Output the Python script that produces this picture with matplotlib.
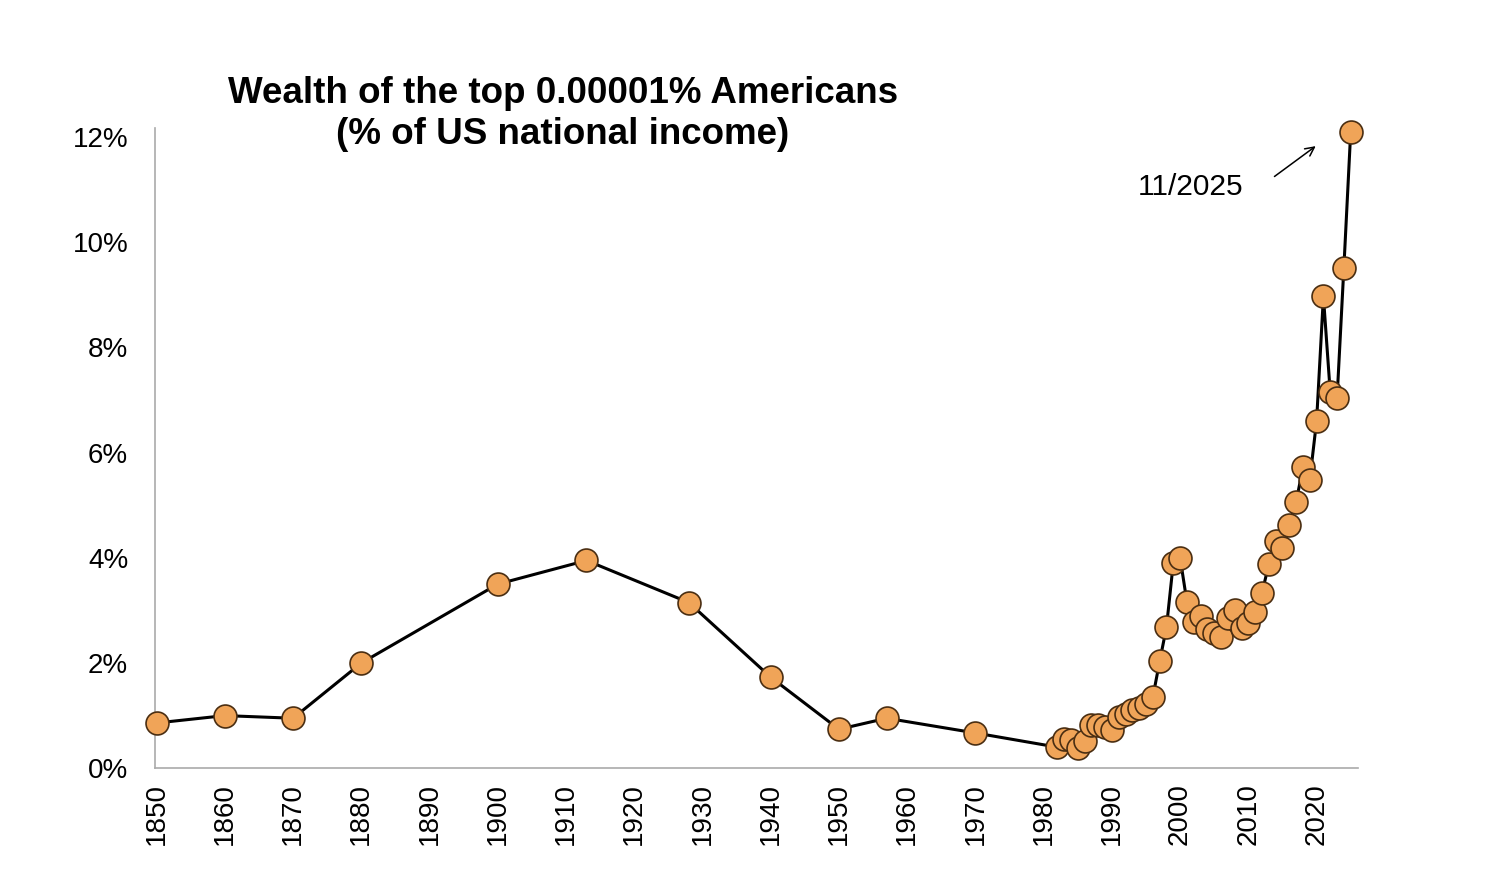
import matplotlib
matplotlib.use("Agg")
import matplotlib.pyplot as plt

years = [1850, 1860, 1870, 1880, 1900, 1913, 1928, 1940, 1950, 1957, 1970,
         1982, 1983, 1984, 1985, 1986, 1987, 1988, 1989, 1990, 1991, 1992,
         1993, 1994, 1995, 1996, 1997, 1998, 1999, 2000, 2001, 2002, 2003,
         2004, 2005, 2006, 2007, 2008, 2009, 2010, 2011, 2012, 2013, 2014,
         2015, 2016, 2017, 2018, 2019, 2020, 2021, 2022, 2023, 2024, 2025]
share = [0.86, 1.00, 0.95, 2.00, 3.50, 3.95, 3.15, 1.73, 0.74, 0.95, 0.67,
         0.40, 0.55, 0.53, 0.38, 0.51, 0.82, 0.82, 0.78, 0.72, 0.97, 1.04,
         1.10, 1.14, 1.23, 1.35, 2.03, 2.68, 3.90, 4.00, 3.16, 2.78, 2.90,
         2.65, 2.57, 2.50, 2.85, 3.00, 2.66, 2.77, 2.97, 3.33, 3.88, 4.32,
         4.18, 4.62, 5.06, 5.72, 5.48, 6.60, 8.97, 7.15, 7.03, 9.52, 12.10]
xticks = list(range(1850, 2021, 10))
yticks = [0, 2, 4, 6, 8, 10, 12]

plt.rcParams['font.family'] = ['Liberation Sans', 'DejaVu Sans']
fig = plt.figure(figsize=(14.86, 8.84), dpi=100)
ax = fig.add_axes([0.104, 0.131, 0.81, 0.724])

ax.plot(years, share, color='black', lw=2.2, zorder=2, clip_on=False)
ax.plot(years, share, 'o', ms=16.5, mfc='#F0A458', mec='#4a2e12', mew=1.2,
        zorder=3, clip_on=False)

ax.set_xlim(1849.7, 2026.1)
ax.set_ylim(0, 12.17)
ax.set_xticks(xticks)
ax.set_xticklabels([str(t) for t in xticks], rotation=90, fontsize=20)
ax.set_yticks(yticks)
ax.set_yticklabels([f"{t}%" for t in yticks], fontsize=20)
ax.tick_params(axis='x', length=0, pad=11)
ax.tick_params(axis='y', length=0, pad=19)
for s in ['top', 'right']:
    ax.spines[s].set_visible(False)
for s in ['left', 'bottom']:
    ax.spines[s].set_color('#aaaaaa')
    ax.spines[s].set_linewidth(1.2)

fig.text(563/1486, 1 - 114/884, "Wealth of the top 0.00001% Americans\n(% of US national income)",
         ha='center', va='center', fontsize=26.5, fontweight='bold', linespacing=1.2)

ax.annotate("", xy=(2020.2, 11.86), xytext=(2013.5, 11.22),
            arrowprops=dict(arrowstyle='->', color='black', lw=1.1, mutation_scale=16))
ax.text(2009.2, 11.05, "11/2025", ha='right', va='center', fontsize=21.5)

fig.savefig("out.png", dpi=100)
